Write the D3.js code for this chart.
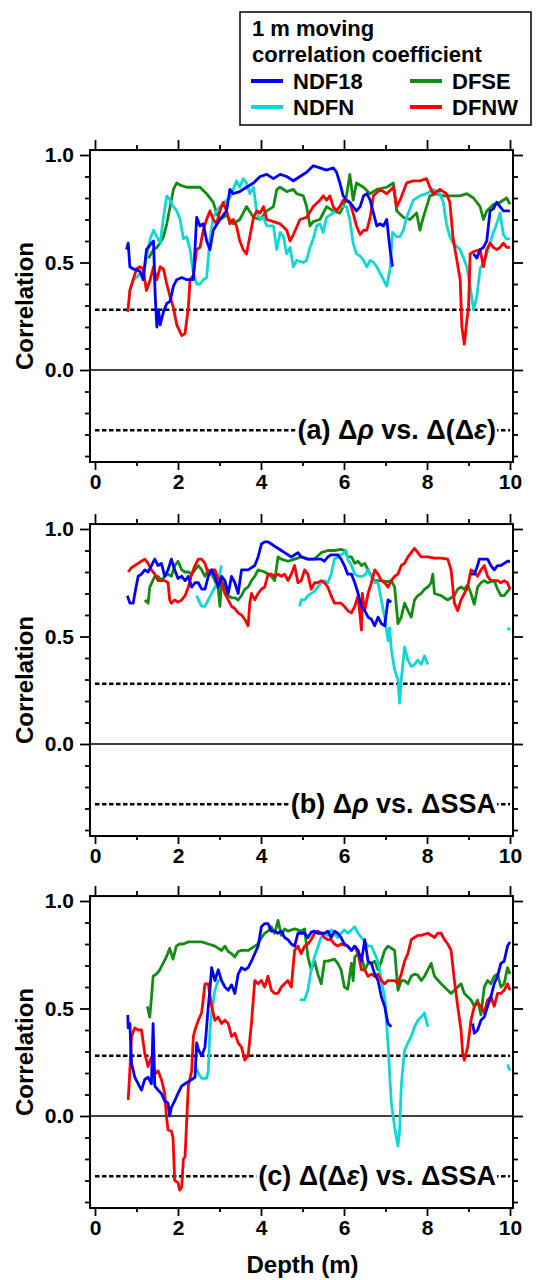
<!DOCTYPE html>
<html lang="en">
  <head>
    <meta charset="UTF-8" />
    <title>1 m moving correlation coefficient</title>
    <script src="https://d3js.org/d3.v7.min.js"></script>
    <style>
      body {
        margin: 0;
        background: #fff;
        font-family: "Liberation Sans", Arial, sans-serif;
      }
      text {
        font-weight: bold;
      }
    </style>
  </head>
  <body>
    <div id="chart"></div>
    <script>
      // series names and colours (legend order)
      const seriesNames = ["NDF18", "NDFN", "DFSE", "DFNW"];
      const seriesColors = ["#0000ff", "#12d6d6", "#128c12", "#ff0000"];

      const xMajorTicks = [0, 2, 4, 6, 8, 10];
      const yMajorTicks = [0, 0.5, 1];
      const threshold = 0.28;

      // ---- panel (a): delta rho vs delta(delta eps) ----
      const ndf18A = [
        [[0.76,0.56],[0.80,0.59],[0.84,0.48],[0.92,0.47],[1.08,0.46],[1.16,0.42],[1.24,0.56],[1.36,0.59],[1.41,0.60],[1.45,0.35],[1.49,0.20],[1.53,0.28],[1.57,0.21],[1.65,0.27],[1.73,0.31],[1.81,0.32],[1.89,0.39],[1.97,0.42],[2.09,0.43],[2.21,0.42],[2.37,0.42],[2.45,0.71],[2.53,0.67],[2.61,0.68],[2.69,0.60],[2.77,0.56],[2.85,0.65],[3.01,0.70],[3.17,0.74],[3.25,0.84],[3.33,0.82],[3.49,0.83],[3.65,0.85],[3.82,0.87],[3.98,0.90],[4.14,0.91],[4.30,0.89],[4.46,0.91],[4.62,0.90],[4.78,0.88],[4.94,0.90],[5.10,0.92],[5.26,0.95],[5.42,0.94],[5.58,0.93],[5.74,0.94],[5.82,0.92],[5.90,0.87],[5.98,0.81],[6.06,0.79],[6.14,0.78],[6.22,0.76],[6.30,0.74],[6.39,0.76],[6.47,0.81],[6.55,0.82],[6.63,0.79],[6.71,0.73],[6.79,0.67],[6.87,0.68],[6.95,0.67],[7.03,0.70],[7.11,0.56],[7.17,0.48]],
        [[9.12,0.54],[9.20,0.52],[9.28,0.56],[9.36,0.57],[9.44,0.60],[9.52,0.74],[9.60,0.75],[9.68,0.78],[9.76,0.76],[9.84,0.74],[9.92,0.74],[10.0,0.74]]
      ];
      const ndfnA = [
        [[0.83,0.36],[0.92,0.42],[1.00,0.43],[1.08,0.45],[1.16,0.43],[1.24,0.53],[1.33,0.61],[1.41,0.65],[1.49,0.62],[1.57,0.59],[1.65,0.71],[1.73,0.81],[1.81,0.79],[1.89,0.76],[1.97,0.74],[2.05,0.70],[2.13,0.61],[2.21,0.62],[2.29,0.56],[2.37,0.45],[2.45,0.40],[2.53,0.40],[2.61,0.42],[2.69,0.43],[2.77,0.61],[2.85,0.71],[2.93,0.74],[3.01,0.76],[3.09,0.77],[3.17,0.79],[3.25,0.80],[3.33,0.84],[3.41,0.88],[3.49,0.85],[3.57,0.89],[3.65,0.87],[3.73,0.82],[3.82,0.85],[3.90,0.73],[3.98,0.70],[4.06,0.71],[4.14,0.67],[4.30,0.67],[4.38,0.56],[4.46,0.64],[4.54,0.62],[4.62,0.54],[4.70,0.57],[4.78,0.48],[4.86,0.51],[5.02,0.50],[5.10,0.51],[5.18,0.57],[5.26,0.61],[5.34,0.67],[5.42,0.68],[5.50,0.64],[5.58,0.71],[5.74,0.73],[5.90,0.76],[6.06,0.76],[6.14,0.70],[6.22,0.59],[6.30,0.54],[6.39,0.53],[6.47,0.51],[6.55,0.48],[6.63,0.51],[6.71,0.50],[6.79,0.48],[6.87,0.45],[6.95,0.42],[7.03,0.39],[7.11,0.47],[7.17,0.64],[7.27,0.62],[7.35,0.62],[7.43,0.65],[7.51,0.71],[7.67,0.79],[7.83,0.81],[7.99,0.82],[8.15,0.84],[8.23,0.83],[8.31,0.82],[8.39,0.78],[8.47,0.68],[8.55,0.62],[8.63,0.59],[8.80,0.56],[8.96,0.48],[9.04,0.39],[9.12,0.28],[9.20,0.34],[9.28,0.47],[9.36,0.50],[9.44,0.54],[9.52,0.59],[9.60,0.64],[9.68,0.68],[9.76,0.73],[9.84,0.63],[9.92,0.61],[10.0,0.61]]
      ];
      const dfseA = [
        [[1.29,0.52],[1.41,0.56],[1.49,0.57],[1.57,0.59],[1.65,0.62],[1.73,0.68],[1.81,0.76],[1.89,0.84],[1.97,0.87],[2.05,0.86],[2.21,0.85],[2.37,0.85],[2.53,0.85],[2.69,0.82],[2.85,0.78],[2.93,0.73],[3.01,0.70],[3.17,0.72],[3.33,0.68],[3.49,0.70],[3.65,0.76],[3.82,0.71],[3.98,0.70],[4.14,0.74],[4.30,0.76],[4.38,0.84],[4.46,0.85],[4.62,0.83],[4.78,0.84],[4.86,0.82],[5.02,0.81],[5.10,0.76],[5.18,0.67],[5.26,0.69],[5.42,0.70],[5.58,0.76],[5.74,0.74],[5.90,0.73],[5.98,0.76],[6.06,0.81],[6.14,0.91],[6.22,0.79],[6.30,0.87],[6.47,0.85],[6.63,0.82],[6.79,0.84],[7.03,0.85],[7.19,0.87],[7.27,0.74],[7.43,0.71],[7.59,0.70],[7.75,0.73],[7.83,0.65],[7.91,0.71],[7.99,0.76],[8.07,0.81],[8.23,0.82],[8.39,0.81],[8.55,0.81],[8.80,0.81],[8.96,0.82],[9.12,0.80],[9.28,0.76],[9.36,0.70],[9.44,0.74],[9.60,0.77],[9.76,0.78],[9.92,0.80],[10.0,0.77]]
      ];
      const dfnwA = [
        [[0.79,0.27],[0.84,0.37],[0.92,0.42],[1.00,0.47],[1.08,0.48],[1.16,0.47],[1.24,0.37],[1.33,0.42],[1.41,0.48],[1.49,0.42],[1.57,0.48],[1.65,0.47],[1.73,0.40],[1.81,0.34],[1.89,0.29],[1.97,0.21],[2.09,0.16],[2.17,0.17],[2.21,0.23],[2.25,0.29],[2.29,0.42],[2.37,0.44],[2.45,0.56],[2.53,0.57],[2.61,0.65],[2.69,0.70],[2.77,0.74],[2.85,0.70],[2.93,0.68],[3.01,0.74],[3.09,0.78],[3.17,0.74],[3.25,0.68],[3.33,0.70],[3.41,0.67],[3.49,0.60],[3.57,0.56],[3.65,0.54],[3.73,0.62],[3.82,0.71],[3.90,0.74],[3.98,0.73],[4.06,0.76],[4.14,0.70],[4.30,0.69],[4.46,0.68],[4.62,0.65],[4.70,0.60],[4.78,0.63],[4.94,0.70],[5.10,0.71],[5.26,0.76],[5.42,0.79],[5.50,0.81],[5.58,0.79],[5.66,0.81],[5.74,0.76],[5.82,0.74],[5.90,0.76],[5.98,0.79],[6.14,0.78],[6.22,0.73],[6.30,0.67],[6.39,0.63],[6.47,0.65],[6.55,0.65],[6.63,0.71],[6.71,0.81],[6.87,0.84],[7.03,0.82],[7.19,0.85],[7.27,0.76],[7.35,0.79],[7.51,0.87],[7.67,0.88],[7.83,0.88],[7.99,0.89],[8.07,0.85],[8.15,0.82],[8.31,0.84],[8.47,0.82],[8.55,0.78],[8.63,0.61],[8.72,0.51],[8.80,0.42],[8.84,0.20],[8.90,0.12],[8.96,0.23],[9.00,0.29],[9.04,0.54],[9.12,0.55],[9.28,0.56],[9.36,0.48],[9.44,0.56],[9.52,0.59],[9.60,0.57],[9.68,0.56],[9.76,0.57],[9.84,0.59],[9.92,0.57],[10.0,0.57]]
      ];

      // ---- panel (b): delta rho vs delta SSA ----
      const ndf18B = [
        [[0.78,0.69],[0.84,0.655],[0.92,0.655],[0.96,0.70],[1.04,0.78],[1.12,0.79],[1.20,0.81],[1.28,0.80],[1.36,0.83],[1.44,0.86],[1.52,0.83],[1.60,0.84],[1.68,0.78],[1.76,0.81],[1.84,0.86],[1.92,0.81],[2.00,0.77],[2.09,0.78],[2.17,0.76],[2.25,0.78],[2.33,0.73],[2.41,0.75],[2.49,0.75],[2.57,0.72],[2.65,0.72],[2.73,0.78],[2.81,0.81],[2.89,0.78],[2.97,0.73],[3.05,0.78],[3.13,0.76],[3.21,0.70],[3.29,0.78],[3.37,0.75],[3.45,0.70],[3.53,0.81],[3.69,0.81],[3.85,0.83],[3.93,0.87],[4.01,0.93],[4.09,0.94],[4.17,0.94],[4.25,0.93],[4.33,0.92],[4.49,0.90],[4.57,0.89],[4.65,0.88],[4.73,0.87],[4.89,0.89],[4.97,0.87],[5.13,0.86],[5.29,0.86],[5.45,0.86],[5.53,0.85],[5.61,0.87],[5.69,0.88],[5.77,0.88],[5.85,0.88],[5.93,0.86],[6.01,0.83],[6.09,0.79],[6.18,0.79],[6.26,0.75],[6.34,0.70],[6.42,0.64],[6.50,0.62],[6.58,0.59],[6.66,0.58],[6.74,0.55],[6.82,0.59],[6.90,0.56],[6.98,0.55],[7.06,0.67],[7.14,0.66]],
        [[9.06,0.79],[9.14,0.79],[9.22,0.83],[9.26,0.86],[9.38,0.86],[9.46,0.86],[9.54,0.83],[9.62,0.81],[9.70,0.83],[9.78,0.83],[9.86,0.84],[9.94,0.85],[10.0,0.85]]
      ];
      const ndfnB = [
        [[2.45,0.69],[2.53,0.655],[2.57,0.64],[2.65,0.64],[2.73,0.67],[2.81,0.70],[2.89,0.73],[2.97,0.76],[3.05,0.83]],
        [[4.93,0.64],[4.97,0.67],[5.05,0.67],[5.13,0.69],[5.21,0.70],[5.29,0.71],[5.37,0.73],[5.45,0.75],[5.53,0.76],[5.61,0.75],[5.69,0.79],[5.77,0.86],[5.85,0.87],[5.93,0.88],[6.01,0.89],[6.05,0.90],[6.09,0.86],[6.18,0.83],[6.26,0.79],[6.34,0.78],[6.42,0.78],[6.50,0.785],[6.58,0.81],[6.66,0.78],[6.74,0.75],[6.82,0.75],[6.90,0.67],[6.98,0.59],[7.06,0.48],[7.10,0.54],[7.14,0.44],[7.22,0.345],[7.30,0.30],[7.34,0.19],[7.38,0.30],[7.46,0.45],[7.54,0.39],[7.62,0.36],[7.70,0.37],[7.78,0.39],[7.86,0.37],[7.94,0.41],[8.02,0.37]],
        [[9.94,0.54],[10.0,0.53]]
      ];
      const dfseB = [
        [[1.20,0.67],[1.28,0.655],[1.32,0.73],[1.44,0.78],[1.52,0.78],[1.60,0.76],[1.68,0.78],[1.76,0.79],[1.84,0.78],[1.92,0.83],[2.00,0.85],[2.09,0.81],[2.17,0.80],[2.25,0.80],[2.33,0.79],[2.41,0.81],[2.49,0.83],[2.57,0.81],[2.65,0.78],[2.73,0.81],[2.81,0.79],[2.89,0.76],[2.97,0.72],[3.01,0.64],[3.05,0.76],[3.13,0.73],[3.21,0.69],[3.29,0.68],[3.37,0.68],[3.45,0.67],[3.53,0.69],[3.61,0.72],[3.69,0.73],[3.77,0.76],[3.85,0.78],[3.93,0.81],[4.09,0.80],[4.17,0.79],[4.25,0.78],[4.33,0.76],[4.41,0.87],[4.49,0.86],[4.65,0.85],[4.81,0.86],[4.97,0.87],[5.13,0.86],[5.29,0.86],[5.45,0.89],[5.61,0.90],[5.77,0.90],[5.93,0.905],[6.01,0.90],[6.09,0.87],[6.18,0.87],[6.26,0.84],[6.34,0.85],[6.42,0.83],[6.50,0.84],[6.58,0.81],[6.66,0.78],[6.74,0.76],[6.90,0.76],[7.06,0.755],[7.14,0.76],[7.22,0.73],[7.30,0.56],[7.38,0.59],[7.46,0.655],[7.54,0.62],[7.62,0.59],[7.70,0.67],[7.78,0.69],[7.86,0.70],[7.94,0.72],[8.02,0.73],[8.10,0.75],[8.14,0.79],[8.18,0.70],[8.34,0.69],[8.50,0.67],[8.66,0.69],[8.74,0.72],[8.82,0.73],[8.90,0.72],[8.98,0.74],[9.06,0.70],[9.14,0.65],[9.22,0.73],[9.30,0.75],[9.38,0.76],[9.46,0.75],[9.62,0.76],[9.70,0.72],[9.78,0.69],[9.86,0.69],[9.94,0.71],[10.0,0.72]]
      ];
      const dfnwB = [
        [[0.80,0.80],[0.88,0.82],[0.96,0.83],[1.04,0.84],[1.12,0.85],[1.20,0.86],[1.28,0.84],[1.36,0.81],[1.44,0.79],[1.52,0.76],[1.60,0.76],[1.68,0.76],[1.76,0.75],[1.80,0.67],[1.84,0.655],[1.92,0.67],[2.00,0.66],[2.09,0.67],[2.17,0.69],[2.25,0.73],[2.33,0.79],[2.41,0.83],[2.49,0.86],[2.57,0.86],[2.65,0.84],[2.73,0.79],[2.81,0.81],[2.89,0.81],[2.97,0.77],[3.05,0.75],[3.13,0.70],[3.21,0.67],[3.29,0.64],[3.37,0.63],[3.45,0.61],[3.53,0.60],[3.61,0.58],[3.69,0.55],[3.73,0.655],[3.77,0.70],[3.85,0.67],[3.93,0.70],[4.01,0.72],[4.09,0.73],[4.17,0.79],[4.25,0.79],[4.33,0.78],[4.41,0.79],[4.49,0.78],[4.57,0.79],[4.65,0.76],[4.73,0.79],[4.81,0.83],[4.89,0.75],[4.97,0.76],[5.05,0.81],[5.13,0.79],[5.21,0.72],[5.29,0.75],[5.37,0.75],[5.45,0.76],[5.53,0.75],[5.61,0.73],[5.69,0.69],[5.77,0.655],[5.85,0.655],[5.93,0.655],[6.01,0.64],[6.09,0.62],[6.18,0.61],[6.26,0.64],[6.34,0.69],[6.42,0.53],[6.44,0.70],[6.50,0.62],[6.58,0.70],[6.66,0.75],[6.74,0.81],[6.82,0.79],[6.90,0.76],[6.98,0.75],[7.06,0.73],[7.14,0.76],[7.22,0.78],[7.30,0.79],[7.38,0.83],[7.46,0.84],[7.54,0.87],[7.62,0.89],[7.70,0.91],[7.78,0.89],[7.86,0.87],[8.02,0.87],[8.18,0.865],[8.34,0.865],[8.50,0.86],[8.58,0.81],[8.66,0.655],[8.74,0.62],[8.82,0.67],[8.90,0.70],[8.98,0.73],[9.06,0.81],[9.14,0.80],[9.22,0.78],[9.30,0.81],[9.38,0.83],[9.46,0.78],[9.54,0.76],[9.62,0.76],[9.70,0.76],[9.78,0.75],[9.86,0.76],[9.94,0.75],[10.0,0.72]]
      ];

      // ---- panel (c): delta(delta eps) vs delta SSA ----
      const ndf18C = [
        [[0.79,0.47],[0.80,0.41],[0.84,0.43],[0.88,0.245],[0.96,0.18],[1.12,0.12],[1.20,0.17],[1.28,0.18],[1.36,0.15],[1.40,0.43],[1.44,0.14],[1.52,0.12],[1.60,0.105],[1.68,0.07],[1.76,0.06],[1.80,0.0],[1.84,0.04],[1.92,0.07],[2.00,0.105],[2.09,0.14],[2.17,0.15],[2.25,0.16],[2.33,0.17],[2.41,0.18],[2.45,0.34],[2.49,0.31],[2.57,0.28],[2.65,0.32],[2.73,0.51],[2.77,0.585],[2.81,0.69],[2.89,0.63],[2.97,0.68],[3.05,0.63],[3.13,0.60],[3.21,0.585],[3.29,0.61],[3.37,0.57],[3.45,0.66],[3.53,0.69],[3.61,0.68],[3.69,0.69],[3.77,0.72],[3.85,0.755],[3.93,0.79],[4.01,0.88],[4.09,0.895],[4.17,0.895],[4.25,0.86],[4.33,0.86],[4.41,0.85],[4.49,0.86],[4.57,0.83],[4.65,0.82],[4.73,0.80],[4.81,0.79],[4.89,0.85],[4.97,0.85],[5.05,0.85],[5.13,0.83],[5.21,0.855],[5.29,0.86],[5.37,0.85],[5.45,0.85],[5.53,0.85],[5.61,0.86],[5.69,0.83],[5.77,0.86],[5.85,0.85],[5.93,0.83],[6.01,0.80],[6.09,0.79],[6.18,0.77],[6.26,0.79],[6.34,0.77],[6.42,0.72],[6.50,0.82],[6.58,0.72],[6.66,0.71],[6.74,0.66],[6.82,0.63],[6.90,0.555],[6.98,0.51],[7.06,0.43],[7.14,0.415]],
        [[9.10,0.43],[9.14,0.385],[9.22,0.40],[9.30,0.445],[9.38,0.46],[9.46,0.51],[9.54,0.555],[9.62,0.615],[9.70,0.65],[9.78,0.71],[9.86,0.72],[9.94,0.79],[10.0,0.81]]
      ];
      const ndfnC = [
        [[2.41,0.23],[2.49,0.20],[2.57,0.175],[2.65,0.175],[2.69,0.175],[2.73,0.21],[2.77,0.40],[2.81,0.48],[2.89,0.585],[2.97,0.63],[3.05,0.635]],
        [[4.93,0.54],[5.05,0.54],[5.13,0.585],[5.21,0.68],[5.29,0.74],[5.37,0.785],[5.45,0.83],[5.53,0.85],[5.61,0.84],[5.69,0.865],[5.77,0.85],[5.85,0.83],[5.93,0.85],[6.01,0.865],[6.09,0.85],[6.18,0.865],[6.26,0.88],[6.34,0.85],[6.42,0.83],[6.50,0.81],[6.58,0.79],[6.66,0.79],[6.74,0.755],[6.82,0.72],[6.90,0.63],[6.98,0.555],[7.06,0.34],[7.14,0.06],[7.22,-0.05],[7.26,-0.10],[7.30,-0.14],[7.34,-0.07],[7.38,0.14],[7.42,0.23],[7.46,0.305],[7.54,0.34],[7.62,0.37],[7.70,0.415],[7.78,0.445],[7.86,0.46],[7.94,0.48],[7.98,0.445],[8.02,0.415]],
        [[9.94,0.24],[10.0,0.21]]
      ];
      const dfseC = [
        [[1.26,0.51],[1.32,0.46],[1.36,0.55],[1.40,0.65],[1.48,0.66],[1.56,0.68],[1.64,0.71],[1.72,0.74],[1.80,0.78],[1.88,0.73],[1.96,0.79],[2.04,0.80],[2.13,0.80],[2.25,0.81],[2.41,0.81],[2.57,0.81],[2.73,0.80],[2.89,0.79],[3.05,0.77],[3.13,0.79],[3.21,0.765],[3.29,0.755],[3.37,0.74],[3.45,0.765],[3.53,0.77],[3.69,0.77],[3.85,0.79],[3.93,0.80],[4.01,0.83],[4.09,0.85],[4.17,0.86],[4.25,0.88],[4.33,0.85],[4.41,0.91],[4.49,0.84],[4.57,0.87],[4.65,0.86],[4.81,0.87],[4.97,0.86],[5.05,0.87],[5.13,0.74],[5.21,0.68],[5.29,0.72],[5.37,0.66],[5.45,0.615],[5.53,0.72],[5.61,0.72],[5.77,0.73],[5.85,0.71],[5.93,0.68],[6.01,0.60],[6.09,0.59],[6.18,0.71],[6.22,0.63],[6.26,0.74],[6.34,0.755],[6.42,0.74],[6.50,0.68],[6.58,0.71],[6.66,0.71],[6.74,0.72],[6.82,0.68],[6.90,0.72],[6.98,0.77],[7.06,0.79],[7.14,0.78],[7.22,0.77],[7.30,0.585],[7.38,0.63],[7.46,0.63],[7.54,0.615],[7.62,0.65],[7.70,0.66],[7.78,0.655],[7.86,0.63],[7.94,0.65],[8.02,0.68],[8.10,0.71],[8.18,0.65],[8.34,0.615],[8.50,0.585],[8.58,0.57],[8.66,0.585],[8.74,0.60],[8.82,0.615],[8.90,0.57],[8.98,0.555],[9.06,0.54],[9.14,0.51],[9.22,0.54],[9.30,0.47],[9.38,0.60],[9.46,0.63],[9.54,0.615],[9.62,0.65],[9.70,0.66],[9.78,0.60],[9.86,0.615],[9.94,0.69],[10.0,0.66]]
      ];
      const dfnwC = [
        [[0.80,0.075],[0.84,0.21],[0.88,0.37],[0.96,0.41],[1.04,0.40],[1.12,0.40],[1.20,0.29],[1.28,0.23],[1.36,0.275],[1.44,0.21],[1.48,0.20],[1.52,0.21],[1.60,0.17],[1.68,0.105],[1.72,0.0],[1.76,-0.065],[1.84,-0.07],[1.88,-0.10],[1.92,-0.30],[2.00,-0.31],[2.04,-0.345],[2.09,-0.33],[2.13,-0.20],[2.17,-0.19],[2.21,-0.02],[2.25,0.14],[2.33,0.21],[2.37,0.37],[2.41,0.40],[2.49,0.445],[2.57,0.48],[2.65,0.615],[2.73,0.615],[2.81,0.51],[2.89,0.445],[2.97,0.46],[3.05,0.43],[3.13,0.445],[3.21,0.43],[3.29,0.37],[3.37,0.385],[3.45,0.34],[3.53,0.32],[3.61,0.26],[3.69,0.28],[3.77,0.43],[3.85,0.63],[3.93,0.615],[4.01,0.63],[4.09,0.60],[4.17,0.65],[4.25,0.585],[4.33,0.57],[4.41,0.57],[4.49,0.60],[4.57,0.615],[4.65,0.63],[4.73,0.60],[4.81,0.77],[4.89,0.79],[4.97,0.755],[5.05,0.79],[5.13,0.80],[5.21,0.82],[5.29,0.85],[5.37,0.86],[5.45,0.85],[5.53,0.83],[5.61,0.82],[5.69,0.82],[5.77,0.80],[5.85,0.79],[5.93,0.80],[6.09,0.79],[6.18,0.77],[6.26,0.79],[6.34,0.755],[6.42,0.68],[6.50,0.68],[6.58,0.65],[6.66,0.66],[6.74,0.65],[6.82,0.66],[6.90,0.63],[6.98,0.615],[7.06,0.63],[7.22,0.63],[7.30,0.615],[7.38,0.66],[7.46,0.72],[7.54,0.755],[7.62,0.82],[7.70,0.83],[7.78,0.84],[7.86,0.84],[8.02,0.85],[8.18,0.83],[8.26,0.85],[8.34,0.85],[8.42,0.82],[8.50,0.80],[8.58,0.77],[8.66,0.63],[8.74,0.51],[8.82,0.40],[8.86,0.29],[8.90,0.26],[8.98,0.32],[9.06,0.445],[9.14,0.51],[9.22,0.525],[9.30,0.51],[9.38,0.48],[9.46,0.54],[9.54,0.555],[9.62,0.51],[9.70,0.57],[9.78,0.57],[9.86,0.585],[9.94,0.615],[10.0,0.585]]
      ];

      // data per panel, same order as seriesNames
      const panelData = [
        [ndf18A, ndfnA, dfseA, dfnwA],
        [ndf18B, ndfnB, dfseB, dfnwB],
        [ndf18C, ndfnC, dfseC, dfnwC]
      ];
      const drawOrder = [2, 1, 3, 0]; // green, cyan, red, blue on top

      // ---- layout ----
      const width = 544;
      const height = 1280;
      const zeroY = [370, 744, 1116]; // pixel of r = 0 in each panel
      const unitPx = 215;
      const yDomain = [-0.428, 1.023];
      const font = "Liberation Sans, Arial, sans-serif";

      const svg = d3
        .select("#chart")
        .append("svg")
        .attr("width", width)
        .attr("height", height);

      const x = d3.scaleLinear().domain([0, 10]).range([95, 510]);
      const frameX0 = 90;
      const frameX1 = 513;

      const yMinor = [-0.4, -0.3, -0.2, -0.1, 0.1, 0.2, 0.3, 0.4, 0.6, 0.7, 0.8, 0.9];
      const xMinor = [1, 3, 5, 7, 9];

      panelData.forEach((series, i) => {
        const y = d3
          .scaleLinear()
          .domain([0, 1])
          .range([zeroY[i], zeroY[i] - unitPx]);
        const top = y(yDomain[1]);
        const bottom = y(yDomain[0]);
        const g = svg.append("g");

        // ticks: all point outward
        const addAxis = (axisFn, scale, vals, size, tr, labels) => {
          const ax = g
            .append("g")
            .attr("transform", tr)
            .call(
              axisFn(scale)
                .tickValues(vals)
                .tickSize(size)
                .tickPadding(labels ? 6 : 3)
                .tickFormat(labels ? d3.format(".1f") : () => "")
            );
          ax.select(".domain").remove();
          ax.selectAll("line").attr("stroke", "#000").attr("stroke-width", 1.8);
          ax.selectAll("text")
            .attr("font-size", 21)
            .attr("font-family", font)
            .attr("fill", "#000");
          return ax;
        };
        addAxis(d3.axisLeft, y, yMajorTicks, 10, `translate(${frameX0},0)`, true);
        addAxis(d3.axisLeft, y, yMinor, 5, `translate(${frameX0},0)`, false);
        addAxis(d3.axisRight, y, yMajorTicks, 10, `translate(${frameX1},0)`, false);
        addAxis(d3.axisRight, y, yMinor, 5, `translate(${frameX1},0)`, false);
        addAxis(d3.axisTop, x, xMajorTicks, 10, `translate(0,${top})`, false);
        addAxis(d3.axisTop, x, xMinor, 5, `translate(0,${top})`, false);
        const xb = addAxis(d3.axisBottom, x, xMajorTicks, 8, `translate(0,${bottom})`, false);
        xb.selectAll("text").text((d) => d).attr("dy", "0.78em");
        xb.selectAll(".tick text").attr("y", 11);
        addAxis(d3.axisBottom, x, xMinor, 4, `translate(0,${bottom})`, false);

        // zero line
        g.append("line")
          .attr("x1", frameX0)
          .attr("x2", frameX1)
          .attr("y1", y(0))
          .attr("y2", y(0))
          .attr("stroke", "#000")
          .attr("stroke-width", 1.5);

        // significance lines
        [threshold, -threshold].forEach((t) => {
          g.append("line")
            .attr("x1", x(0))
            .attr("x2", x(10))
            .attr("y1", y(t))
            .attr("y2", y(t))
            .attr("stroke", "#000")
            .attr("stroke-width", 2.5)
            .attr("stroke-dasharray", "4.5,2.5");
        });

        // series lines
        const line = d3
          .line()
          .x((d) => x(d[0]))
          .y((d) => y(d[1]));
        drawOrder.forEach((k) => {
          g.selectAll(null)
            .data(series[k])
            .enter()
            .append("path")
            .attr("d", line)
            .attr("fill", "none")
            .attr("stroke", seriesColors[k])
            .attr("stroke-width", 2.8)
            .attr("stroke-linejoin", "round");
        });

        // frame
        g.append("rect")
          .attr("x", frameX0)
          .attr("y", top)
          .attr("width", frameX1 - frameX0)
          .attr("height", bottom - top)
          .attr("fill", "none")
          .attr("stroke", "#000")
          .attr("stroke-width", 2);

        // panel label with white background
        const bg = g.append("rect").attr("fill", "#fff");
        const lab = g
          .append("text")
          .attr("x", 496)
          .attr("y", y(-threshold) + 9)
          .attr("text-anchor", "end")
          .attr("font-size", 27);
        if (i === 0) {
          lab.append("tspan").text("(a) \u0394");
          lab.append("tspan").attr("font-style", "italic").text("\u03c1");
          lab.append("tspan").text(" vs. \u0394(\u0394");
          lab.append("tspan").attr("font-style", "italic").text("\u03b5");
          lab.append("tspan").text(")");
        } else if (i === 1) {
          lab.append("tspan").text("(b) \u0394");
          lab.append("tspan").attr("font-style", "italic").text("\u03c1");
          lab.append("tspan").text(" vs. \u0394SSA");
        } else {
          lab.append("tspan").text("(c) \u0394(\u0394");
          lab.append("tspan").attr("font-style", "italic").text("\u03b5");
          lab.append("tspan").text(") vs. \u0394SSA");
        }
        const bb = lab.node().getBBox();
        bg.attr("x", bb.x - 2)
          .attr("y", y(-threshold) - 3)
          .attr("width", bb.width + 3)
          .attr("height", 6);

        // y title
        g.append("text")
          .attr("transform", `translate(33,${(top + bottom) / 2}) rotate(-90)`)
          .attr("text-anchor", "middle")
          .attr("font-size", 24)
          .text("Correlation");
      });

      // x title
      svg.append("text")
        .attr("x", (x(0) + x(10)) / 2)
        .attr("y", 1273)
        .attr("text-anchor", "middle")
        .attr("font-size", 24)
        .text("Depth (m)");

      // legend
      const lg = svg.append("g");
      lg.append("rect")
        .attr("x", 240)
        .attr("y", 12)
        .attr("width", 291)
        .attr("height", 113)
        .attr("fill", "#fff")
        .attr("stroke", "#000")
        .attr("stroke-width", 1.5);
      lg.append("text").attr("x", 252).attr("y", 36).attr("font-size", 22).text("1 m moving");
      lg.append("text").attr("x", 252).attr("y", 62).attr("font-size", 22).text("correlation coefficient");
      const legendPos = [
        [251, 81],
        [251, 107],
        [410, 81],
        [410, 107]
      ];
      seriesNames.forEach((name, k) => {
        const [lx, ly] = legendPos[k];
        lg.append("line")
          .attr("x1", lx)
          .attr("x2", lx + 32)
          .attr("y1", ly)
          .attr("y2", ly)
          .attr("stroke", seriesColors[k])
          .attr("stroke-width", 4);
        lg.append("text")
          .attr("x", lx + 42)
          .attr("y", ly + 8)
          .attr("font-size", 22)
          .text(name);
      });
    </script>
  </body>
</html>
